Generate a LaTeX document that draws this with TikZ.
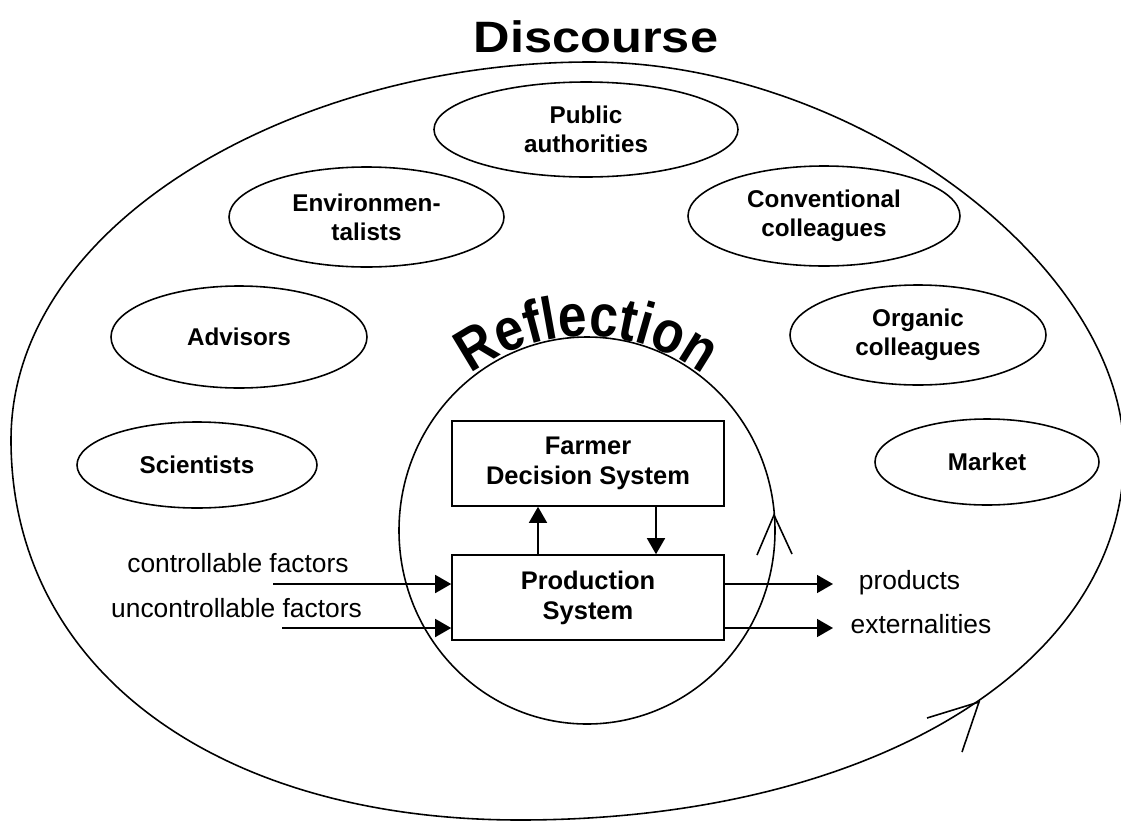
\documentclass[tikz,border=0pt]{standalone}
\usepackage{fontspec}
\setmainfont{Liberation Sans}
\newfontfamily\discfont{Liberation Sans}[FakeStretch=1.15]
\newfontfamily\reflfont{Liberation Sans}[FakeStretch=0.86]
\usetikzlibrary{shapes.geometric,arrows.meta,decorations.text}
\begin{document}
\begin{tikzpicture}[x=0.2mm,y=-0.2mm,line width=0.9pt,
        actor/.style={ellipse,draw,inner sep=0pt,align=center,font=\bfseries\fontsize{13.8}{16.4}\selectfont},
        sysbox/.style={draw,minimum width=5.44cm,minimum height=1.7cm,inner sep=0pt,align=center,font=\bfseries\fontsize{14.5}{17}\selectfont},
        factor/.style={font=\fontsize{15}{18}\selectfont},
        arr/.style={-{Triangle[length=3.2mm,width=3.6mm]}}]
        \useasboundingbox (0,0) rectangle (1121,822);
        % discourse
        \draw (590,62) .. controls (852,62) and (1124,263) .. (1124,455)
            .. controls (1124,667) and (870,820) .. (520,820)
            .. controls (215,820) and (11,668) .. (11,440)
            .. controls (11,220) and (300,62) .. (590,62) -- cycle;
        \node[anchor=base,font=\discfont\bfseries\fontsize{25}{30}\selectfont] (disc) at (596,52) {Discourse};
        \draw (927,718) -- (979,702) -- (962,752);
        \node[actor,minimum width=6.08cm,minimum height=1.9cm] (pub) at (586,129.5) {Public\\authorities};
        \node[actor,minimum width=5.5cm,minimum height=2cm] (env) at (366.5,217) {Environmen-\\talists};
        \node[actor,minimum width=5.44cm,minimum height=2cm] (conv) at (824,216) {Conventional\\colleagues};
        \node[actor,minimum width=5.12cm,minimum height=2.04cm] (adv) at (239,337) {Advisors};
        \node[actor,minimum width=5.12cm,minimum height=2cm] (org) at (918,335) {Organic\\colleagues};
        \node[actor,minimum width=4.8cm,minimum height=1.72cm] (sci) at (197,465) {Scientists};
        \node[actor,minimum width=4.48cm,minimum height=1.72cm] (mkt) at (987,462) {Market};
        % reflection
        \node[ellipse,draw,minimum width=7.52cm,minimum height=7.74cm,inner sep=0pt] (refl) at (587,530.5) {};
        \path[decorate,decoration={text along path,text align=center,
            text={|\reflfont\bfseries\fontsize{34}{40}\selectfont|Reflection}}]
            ([shift={(160:3.89cm)}]refl.center) arc[start angle=160,end angle=20,radius=3.89cm];
        \draw (757,555) -- (774,515) -- (792,554);
        \node[sysbox] (fds) at (588,463.5) {Farmer\\Decision System};
        \node[sysbox] (prod) at (588,597.5) {Production\\System};
        \draw[arr] ([xshift=-1.0cm]prod.north) -- ([xshift=-1.0cm]fds.south);
        \draw[arr] ([xshift=1.36cm]fds.south) -- ([xshift=1.36cm]prod.north);
        % inputs and outputs
        \coordinate (cin) at (273,584);
        \coordinate (uin) at (282,628);
        \coordinate (pout) at (833,584);
        \coordinate (eout) at (833,628);
        \draw[arr] (cin) -- (cin -| prod.west);
        \draw[arr] (uin) -- (uin -| prod.west);
        \draw[arr] (prod.east |- pout) -- (pout);
        \draw[arr] (prod.east |- eout) -- (eout);
        \node[factor] (ctl) at (238,563) {controllable factors};
        \node[factor] (unc) at (236.5,608) {uncontrollable factors};
        \node[factor] (prd) at (909.5,583) {products};
        \node[factor] (ext) at (921,624) {externalities};
    \end{tikzpicture}
\end{document}
